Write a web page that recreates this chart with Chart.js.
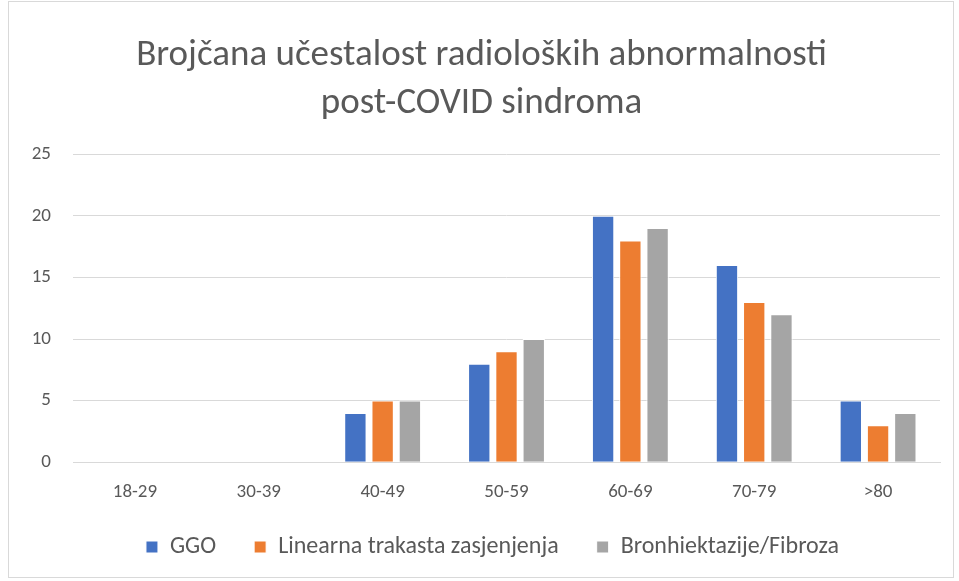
<!DOCTYPE html>
<html>
<head>
<meta charset="utf-8">
<script src="https://cdn.jsdelivr.net/npm/chart.js@4"></script>
<style>
  html, body { margin: 0; padding: 0; background: #fff; }
  #wrap { position: absolute; left: 8px; top: 1px; width: 946px; height: 577px; border: 1px solid #d9d9d9; box-sizing: border-box; }
  canvas { display: block; }
</style>
</head>
<body>
<div id="wrap"><canvas id="chart"></canvas></div>
<script>
// kategorije (dobne skupine)
const categories = ['18-29', '30-39', '40-49', '50-59', '60-69', '70-79', '>80'];
const ggo = [0, 0, 4, 8, 20, 16, 5];
const linearna = [0, 0, 5, 9, 18, 13, 3];
const bronh = [0, 0, 5, 10, 19, 12, 4];
const yTicks = [0, 5, 10, 15, 20, 25];

const font = "Carlito, Lato, 'Open Sans', sans-serif";
const grey = '#595959';

// legenda: razmak izmedju stavki je veci od vertikalnog prostora koji zauzima
const legendFix = {
    id: 'legendFix',
    afterInit(chart) {
        const lg = chart.legend;
        const fit = lg.fit;
        const draw = lg.draw;
        lg.fit = function() { fit.call(this); this.height = 44; };
        lg.draw = function() {
            const t = this.top, l = this.left, r = this.right;
            this.top = t - 26;
            this.left = l + 11;
            this.right = r + 11;
            draw.call(this);
            this.top = t;
            this.left = l;
            this.right = r;
        };
    }
};

const ctx = document.getElementById('chart').getContext('2d');
const chart = new Chart(ctx, {
    type: 'bar',
    data: {
        labels: categories,
        datasets: [
            { label: 'GGO', data: ggo, backgroundColor: '#4472c4' },
            { label: 'Linearna trakasta zasjenjenja', data: linearna, backgroundColor: '#ed7d31' },
            { label: 'Bronhiektazije/Fibroza', data: bronh, backgroundColor: '#a5a5a5' }
        ]
    },
    options: {
        responsive: true,
        maintainAspectRatio: false,
        animation: false,
        layout: { padding: { left: 14, right: 13, top: 30, bottom: 10 } },
        datasets: {
            bar: { categoryPercentage: 0.66, barPercentage: 0.82, borderColor: '#ffffff', borderWidth: 1 }
        },
        plugins: {
            title: {
                display: true,
                text: ['Brojčana učestalost radioloških abnormalnosti', 'post-COVID sindroma'],
                color: grey,
                font: { family: font, size: 37, weight: 'normal', lineHeight: 1.3 },
                padding: { top: 0, bottom: 26 }
            },
            legend: {
                position: 'bottom',
                labels: {
                    color: grey,
                    font: { family: font, size: 24 },
                    boxWidth: 12,
                    boxHeight: 12,
                    padding: 38
                }
            },
            tooltip: { enabled: false }
        },
        scales: {
            x: {
                grid: { display: false, drawTicks: false },
                border: { color: '#d9d9d9', width: 1 },
                ticks: { color: grey, font: { family: font, size: 19 }, padding: 19 }
            },
            y: {
                min: 0,
                max: 25,
                afterBuildTicks: function(axis) {
                    axis.ticks = yTicks.map(v => ({ value: v }));
                },
                afterFit: function(axis) { axis.width = 50; },
                grid: { color: '#d9d9d9', lineWidth: 1, drawTicks: false },
                border: { display: false },
                ticks: { color: grey, font: { family: font, size: 19 }, padding: 22 }
            }
        }
    },
    plugins: [legendFix]
});
</script>
</body>
</html>
